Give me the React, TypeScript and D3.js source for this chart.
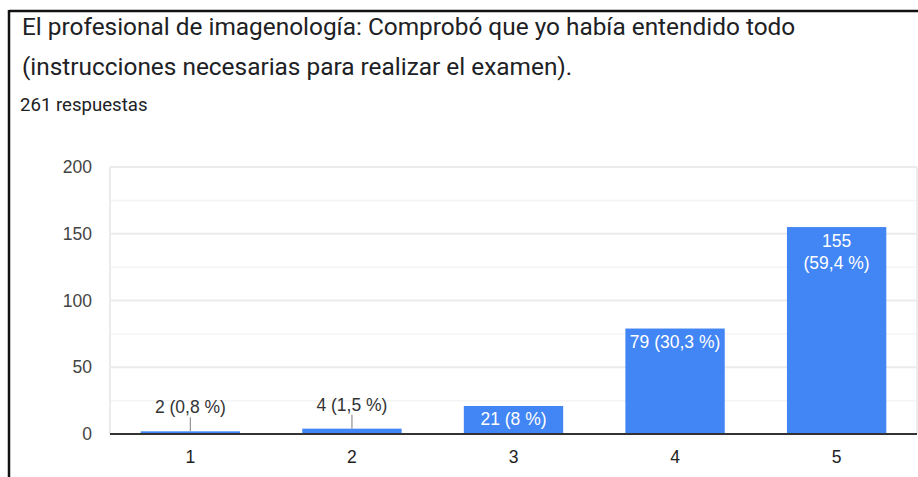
import React from "react";
import * as d3 from "d3";

const categories = ["1", "2", "3", "4", "5"];
const counts = [2, 4, 21, 79, 155];
const percents = ["0,8 %", "1,5 %", "8 %", "30,3 %", "59,4 %"];
const yTicks = [0, 50, 100, 150, 200];
const yMinorTicks = [25, 75, 125, 175];
const titleLines = [
  "El profesional de imagenología: Comprobó que yo había entendido todo",
  "(instrucciones necesarias para realizar el examen).",
];
const subtitle = "261 respuestas";

const W = 918;
const H = 477;
const plot = { left: 110, right: 917, top: 167, bottom: 434 };
const barColor = "#4285f4";
const chartFont = "'Liberation Sans', Arial, sans-serif";

export default function App() {
  const x = d3
    .scaleBand<string>()
    .domain(categories)
    .range([plot.left, plot.right])
    .paddingInner(0.385)
    .paddingOuter(0.19);
  const y = d3.scaleLinear().domain([0, 200]).range([plot.bottom, plot.top]);

  return (
    <div style={{ position: "fixed", left: 0, top: 0, width: W, height: H, background: "#fff" }}>
      <svg width={W} height={H} style={{ display: "block" }}>
        <rect x={0} y={0} width={W} height={H} fill="#fff" />
        {/* frame lines */}
        <line x1={9} x2={W} y1={11} y2={11} stroke="#111" strokeWidth={2.5} />
        <line x1={9} x2={9} y1={10} y2={H} stroke="#111" strokeWidth={2.5} />

        {/* title */}
        {titleLines.map((t, i) => (
          <text
            key={i}
            x={22}
            y={35 + i * 40}
            fontFamily="Roboto, 'Noto Sans', sans-serif"
            fontSize={24.4}
            fill="#202124"
          >
            {t}
          </text>
        ))}
        <text x={20} y={111} fontFamily="Roboto, sans-serif" fontSize={18.6} fill="#202124">
          {subtitle}
        </text>

        {/* grid */}
        {yMinorTicks.map((t) => (
          <line key={"m" + t} x1={plot.left} x2={plot.right} y1={y(t)} y2={y(t)} stroke="#f4f4f4" strokeWidth={1.5} />
        ))}
        {yTicks.map((t) => (
          <line key={"g" + t} x1={plot.left} x2={plot.right} y1={y(t)} y2={y(t)} stroke="#ebebeb" strokeWidth={2} />
        ))}
        <line x1={plot.left} x2={plot.left} y1={plot.top} y2={plot.bottom} stroke="#ebebeb" strokeWidth={2} />
        <line x1={plot.right} x2={plot.right} y1={plot.top} y2={plot.bottom} stroke="#ebebeb" strokeWidth={2} />

        {/* y labels */}
        {yTicks.map((t) => (
          <text
            key={"yl" + t}
            x={92}
            y={y(t)}
            dy="0.35em"
            textAnchor="end"
            fontFamily={chartFont}
            fontSize={17.5}
            fill="#444"
          >
            {t}
          </text>
        ))}

        {/* bars */}
        {categories.map((c, i) => (
          <rect
            key={"b" + c}
            x={x(c)!}
            y={y(counts[i])}
            width={x.bandwidth()}
            height={y(0) - y(counts[i])}
            fill={barColor}
          />
        ))}

        {/* baseline */}
        <line x1={plot.left} x2={plot.right} y1={y(0)} y2={y(0)} stroke="#333" strokeWidth={2} />

        {/* x labels */}
        {categories.map((c) => (
          <text
            key={"xl" + c}
            x={x(c)! + x.bandwidth() / 2}
            y={463}
            textAnchor="middle"
            fontFamily={chartFont}
            fontSize={17.5}
            fill="#222"
          >
            {c}
          </text>
        ))}

        {/* data labels */}
        {categories.map((c, i) => {
          const cx = x(c)! + x.bandwidth() / 2;
          const top = y(counts[i]);
          const label = `${counts[i]} (${percents[i]})`;
          if (i < 2) {
            const base = top - 18;
            return (
              <g key={"dl" + c}>
                <line x1={cx} x2={cx} y1={base + 4} y2={top} stroke="#999" strokeWidth={1.3} />
                <text x={cx} y={base} textAnchor="middle" fontFamily={chartFont} fontSize={17.5} fill="#333">
                  {label}
                </text>
              </g>
            );
          }
          if (i === 4) {
            return (
              <g key={"dl" + c}>
                <text x={cx} y={top + 19.5} textAnchor="middle" fontFamily={chartFont} fontSize={17.5} fill="#fff">
                  {counts[i]}
                </text>
                <text x={cx} y={top + 41.5} textAnchor="middle" fontFamily={chartFont} fontSize={17.5} fill="#fff">
                  {`(${percents[i]})`}
                </text>
              </g>
            );
          }
          return (
            <text
              key={"dl" + c}
              x={cx}
              y={top + 19.5}
              textAnchor="middle"
              fontFamily={chartFont}
              fontSize={17.5}
              fill="#fff"
            >
              {label}
            </text>
          );
        })}
      </svg>
    </div>
  );
}
